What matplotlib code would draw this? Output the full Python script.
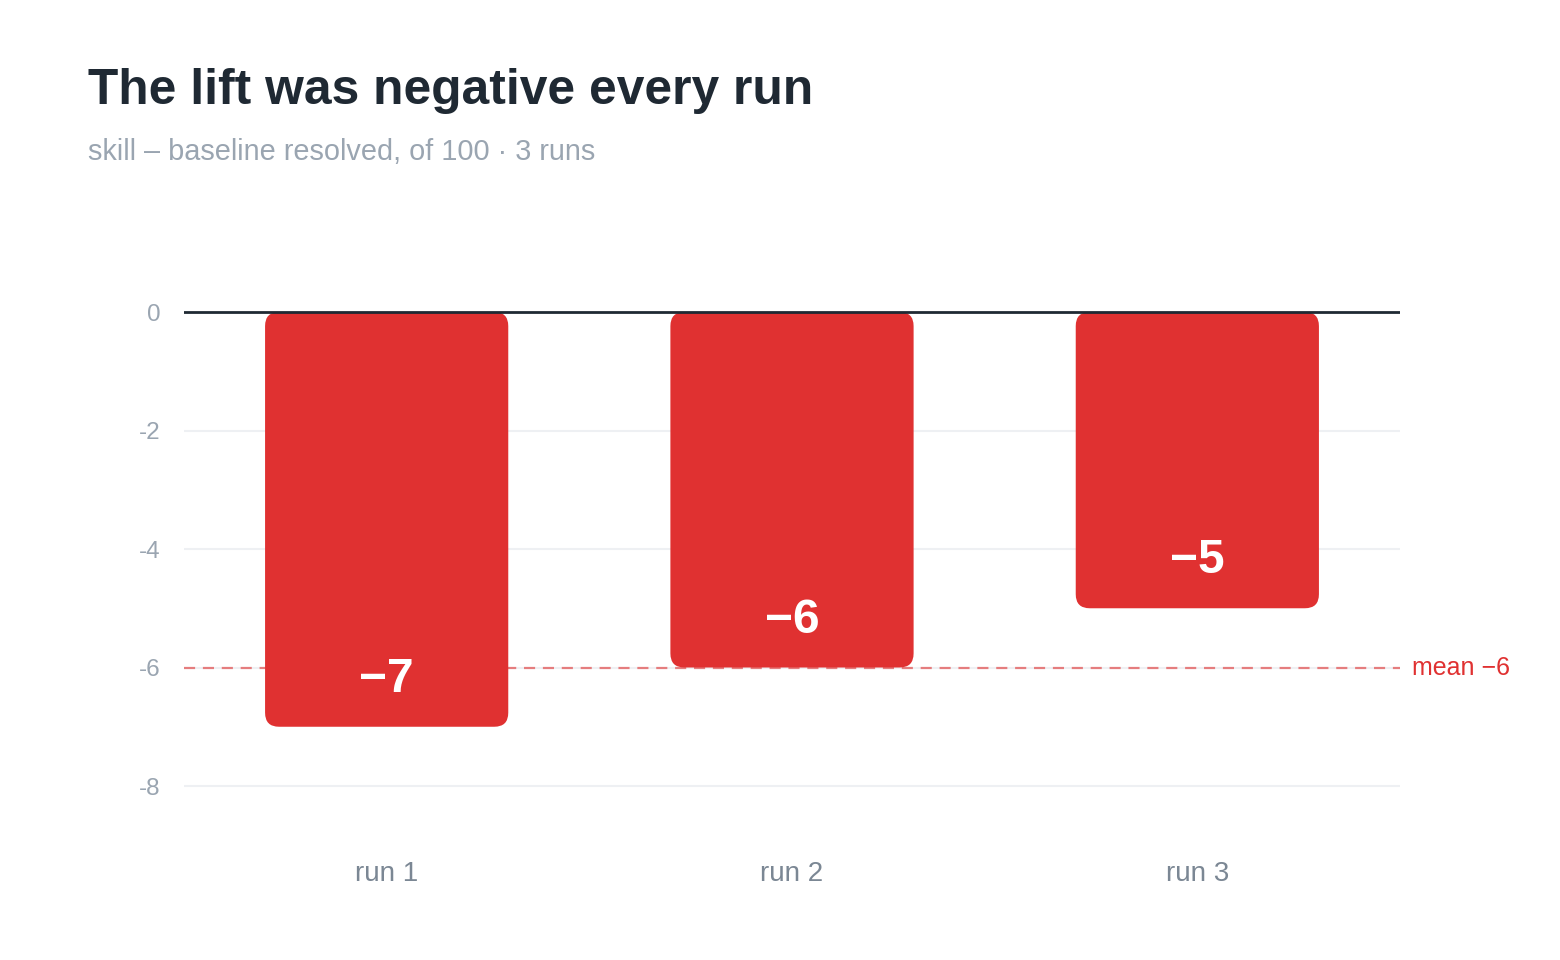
import matplotlib
matplotlib.use("Agg")
import matplotlib.pyplot as plt
from matplotlib.patches import FancyBboxPatch

categories = ["run 1", "run 2", "run 3"]
lift = [-7, -6, -5]
mean_lift = -6
yticks = [0, -2, -4, -6, -8]
title = "The lift was negative every run"
subtitle = "skill \u2013 baseline resolved, of 100 \u00b7 3 runs"

RED = "#e03131"
DARK = "#1f2933"
GREY = "#9aa5b1"
TICK = "#7b8794"

plt.rcParams['font.family'] = ['Liberation Sans', 'DejaVu Sans']

fig = plt.figure(figsize=(15.6, 9.6), dpi=100)
ax = fig.add_axes([184/1560, 1-845.25/960, 1216/1560, (845.25-282.4)/960])
ax.set_xlim(-0.5, 2.5)
ax.set_ylim(-9, 0.5)

x = list(range(len(categories)))
bars = ax.bar(x, lift, width=0.6, color="none", edgecolor="none")
px_x = 1216/3.0
px_y = (845.25-282.4)/9.5
aspect = px_x/px_y
r = 14/px_x
for b in bars:
    x0, y0 = b.get_x(), b.get_y()
    w, h = b.get_width(), b.get_height()
    yb = min(y0, y0+h)
    p = FancyBboxPatch((x0, yb), w, abs(h),
                       boxstyle=f"round,pad=0,rounding_size={r}",
                       mutation_aspect=aspect, facecolor=RED, edgecolor="none",
                       zorder=3, clip_on=False)
    ax.add_patch(p)

for xi, v in zip(x, lift):
    ax.text(xi, v + 0.8, f"\u2212{abs(v)}", ha="center", va="center",
            color="white", fontsize=34.5, fontweight="bold", zorder=5)

ax.axhline(0, color=DARK, lw=2, zorder=4)
for t in yticks:
    if t != 0:
        ax.axhline(t, color="#eef0f3", lw=1.5, zorder=1)
ax.axhline(mean_lift, color=RED, lw=1.6, ls=(0, (5, 3.5)), alpha=0.6, zorder=2)
ax.text(2.5 + 12/px_x, mean_lift, f"mean \u2212{abs(mean_lift)}", color=RED,
        fontsize=18, va="center", ha="left")

ax.set_yticks(yticks)
ax.set_yticklabels([str(t) for t in yticks])
ax.set_xticks(x)
ax.set_xticklabels(categories)
ax.tick_params(axis="y", length=0, pad=17, labelsize=17.5, labelcolor=GREY)
ax.tick_params(axis="x", length=0, pad=11, labelsize=20, labelcolor=TICK)
for s in ax.spines.values():
    s.set_visible(False)

fig.text(88/1560, 1-104/960, title, fontsize=35.8, fontweight="bold", color=DARK,
         ha="left", va="baseline")
fig.text(88/1560, 1-160/960, subtitle, fontsize=20.8, color=GREY,
         ha="left", va="baseline")

fig.savefig("out.png", dpi=100, facecolor="white")
